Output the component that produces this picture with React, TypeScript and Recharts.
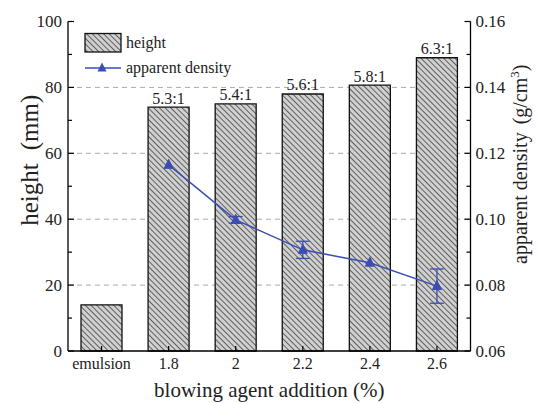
import React from 'react';
import { ComposedChart, Bar, Line, XAxis, YAxis, CartesianGrid, ErrorBar, LabelList } from 'recharts';

const categories = ['emulsion', '1.8', '2', '2.2', '2.4', '2.6'];
const heights = [14, 74, 75, 78, 80.7, 89];
const ratios = ['', '5.3:1', '5.4:1', '5.6:1', '5.8:1', '6.3:1'];
const densities: (number | null)[] = [null, 0.1165, 0.0998, 0.0907, 0.0868, 0.0797];
const densityErrors: (number | null)[] = [null, 0, 0.001, 0.0026, 0, 0.0052];
const heightTicks = [0, 10, 20, 30, 40, 50, 60, 70, 80, 90, 100];
const densityTicks = [0.06, 0.07, 0.08, 0.09, 0.1, 0.11, 0.12, 0.13, 0.14, 0.15, 0.16];
const gridValues = [20, 40, 60, 80];

const data = categories.map((c, i) => ({
  cat: c,
  height: heights[i],
  ratio: ratios[i],
  density: densities[i],
  err: densityErrors[i],
}));

const FONT = 'Liberation Serif';
const BLUE = '#3b4db3';
const TXT = '#222';

const LeftTick = (props: any) => {
  const { x, y, payload } = props;
  const v = payload.value;
  const major = v % 20 === 0;
  const ax = x + 6;
  return (
    <g>
      <line x1={ax} x2={ax + (major ? 6 : 4)} y1={y} y2={y} stroke="#000" strokeWidth={1.2} />
      {major && (
        <text x={x} y={y} dy="0.35em" textAnchor="end" fontSize={17} fontFamily={FONT} style={{ fontFamily: FONT }} fill={TXT}>
          {v}
        </text>
      )}
    </g>
  );
};

const RightTick = (props: any) => {
  const { x, y, payload } = props;
  const v = payload.value;
  const major = Math.round(v * 100) % 2 === 0;
  const ax = x - 5;
  return (
    <g>
      <line x1={ax} x2={ax - (major ? 6 : 4)} y1={y} y2={y} stroke="#000" strokeWidth={1.2} />
      {major && (
        <text x={x} y={y} dy="0.35em" textAnchor="start" fontSize={17} fontFamily={FONT} style={{ fontFamily: FONT }} fill={TXT}>
          {v.toFixed(2)}
        </text>
      )}
    </g>
  );
};

const BottomTick = (props: any) => {
  const { x, y, payload } = props;
  const ay = y - 6;
  return (
    <g>
      <line x1={x} x2={x} y1={ay} y2={ay - 5} stroke="#000" strokeWidth={1.2} />
      <text x={x} y={y} dy="0.78em" textAnchor="middle" fontSize={16} fontFamily={FONT} style={{ fontFamily: FONT }} fill={TXT}>
        {payload.value}
      </text>
    </g>
  );
};

const Triangle = (props: any) => {
  const { cx, cy } = props;
  if (cx == null || cy == null || props.value == null) return null;
  return (
    <polygon
      points={`${cx},${cy - 5.5} ${cx - 4.5},${cy + 3.5} ${cx + 4.5},${cy + 3.5}`}
      fill={BLUE}
      stroke={BLUE}
    />
  );
};

const LeftTitle = (props: any) => {
  const vb = props.viewBox || { x: 0, y: 21.5, width: 68, height: 329.5 };
  const x = vb.x + 38;
  const y = vb.y + vb.height / 2 - 26;
  return (
    <text x={x} y={y} transform={`rotate(-90, ${x}, ${y})`} textAnchor="middle" fontSize={25} fontFamily={FONT} style={{ fontFamily: FONT }} fill={TXT}>
      <tspan>height</tspan>
      <tspan dx={13}>(mm)</tspan>
    </text>
  );
};

const RightTitle = (props: any) => {
  const vb = props.viewBox || { x: 470.5, y: 21.5, width: 67.5, height: 329.5 };
  const x = vb.x + 56;
  const y = vb.y + vb.height / 2 - 22;
  return (
    <text x={x} y={y} transform={`rotate(-90, ${x}, ${y})`} textAnchor="middle" fontSize={20} fontFamily={FONT} style={{ fontFamily: FONT }} fill={TXT}>
      <tspan>apparent density</tspan>
      <tspan dx={8}>(g/cm</tspan>
      <tspan dy={-8} fontSize={13}>3</tspan>
      <tspan dy={8}>)</tspan>
    </text>
  );
};

const BottomTitle = (props: any) => {
  const vb = props.viewBox || { x: 68, y: 351, width: 402.5, height: 42 };
  return (
    <text x={vb.x + vb.width / 2} y={vb.y + 46} textAnchor="middle" fontSize={21} fontFamily={FONT} style={{ fontFamily: FONT }} fill={TXT}>
      blowing agent addition (%)
    </text>
  );
};

const BarLabel = (props: any) => {
  const { x, y, width, value } = props;
  if (!value) return null;
  return (
    <text x={x + width / 2} y={y - 3.5} textAnchor="middle" fontSize={16} fontFamily={FONT} style={{ fontFamily: FONT }} fill={TXT}>
      {value}
    </text>
  );
};

const gridGen = (p: any) => {
  try {
    const s = p?.yAxis?.scale;
    let f: any = null;
    if (typeof s === 'function') f = s;
    else if (s && typeof s.map === 'function') f = (v: number) => s.map(v);
    else if (s && typeof s.scale === 'function') f = s.scale;
    if (!f) return [];
    return gridValues.map((v) => f(v)).filter((n: any) => typeof n === 'number' && isFinite(n));
  } catch (e) {
    return [];
  }
};

export default function App() {
  return (
    <div style={{ position: 'absolute', left: 0, top: 0, width: 538, height: 403, background: '#fff', fontFamily: FONT }}>
      <svg width={0} height={0} style={{ position: 'absolute' }}>
        <defs>
          <pattern id="hatch" patternUnits="userSpaceOnUse" width={4} height={4} patternTransform="rotate(-45)">
            <rect x={0} y={0} width={4} height={4} fill="#d0d0d0" />
            <line x1={0.5} y1={0} x2={0.5} y2={4} stroke="#4a4a4a" strokeWidth={0.85} />
          </pattern>
        </defs>
      </svg>
      <ComposedChart
        width={538}
        height={403}
        data={data}
        margin={{ top: 21.5, right: 0, bottom: 10, left: 0 }}
        style={{ fontFamily: FONT }}
      >
        <CartesianGrid
          yAxisId="left"
          xAxisId="b"
          vertical={false}
          stroke="#aaa"
          strokeDasharray="5 4"
          horizontalCoordinatesGenerator={gridGen}
        />
        <XAxis
          xAxisId="b"
          dataKey="cat"
          height={42}
          interval={0}
          tickSize={0}
          tickMargin={6}
          tickLine={false}
          tick={<BottomTick />}
          axisLine={{ stroke: '#000', strokeWidth: 1.3 }}
          label={<BottomTitle />}
        />
        <XAxis
          xAxisId="top"
          dataKey="cat"
          orientation="top"
          height={0}
          tick={false}
          tickLine={false}
          axisLine={{ stroke: '#000', strokeWidth: 1.3 }}
        />
        <YAxis
          yAxisId="left"
          width={68}
          domain={[0, 100]}
          ticks={heightTicks}
          interval={0}
          tickSize={0}
          tickMargin={6}
          tickLine={false}
          tick={<LeftTick />}
          axisLine={{ stroke: '#000', strokeWidth: 1.3 }}
          label={<LeftTitle />}
        />
        <YAxis
          yAxisId="right"
          orientation="right"
          width={67.5}
          domain={[0.06, 0.16]}
          ticks={densityTicks}
          interval={0}
          tickSize={0}
          tickMargin={5}
          tickLine={false}
          tick={<RightTick />}
          axisLine={{ stroke: '#000', strokeWidth: 1.3 }}
          label={<RightTitle />}
          allowDataOverflow
        />
        <Bar
          xAxisId="b"
          yAxisId="left"
          dataKey="height"
          barSize={41}
          fill="url(#hatch)"
          stroke="#111"
          strokeWidth={1.3}
          isAnimationActive={false}
        >
          <LabelList dataKey="ratio" content={<BarLabel />} />
        </Bar>
        <Line
          xAxisId="b"
          yAxisId="right"
          dataKey="density"
          stroke={BLUE}
          strokeWidth={1.5}
          dot={<Triangle />}
          activeDot={false}
          isAnimationActive={false}
        >
          <ErrorBar dataKey="err" width={7} stroke={BLUE} strokeWidth={1.3} direction="y" />
        </Line>
      </ComposedChart>
      <div style={{ position: 'absolute', left: 84, top: 32, width: 200, height: 50 }}>
        <svg width={200} height={50}>
          <rect x={1} y={1.5} width={36} height={18.5} fill="url(#hatch)" stroke="#111" strokeWidth={1.3} />
          <text x={42} y={16} fontSize={16} fontFamily={FONT} style={{ fontFamily: FONT }} fill={TXT}>height</text>
          <line x1={1} x2={37} y1={36} y2={36} stroke={BLUE} strokeWidth={1.5} />
          <polygon points="18,30.5 13.5,39.5 22.5,39.5" fill={BLUE} />
          <text x={42} y={40.5} fontSize={16} fontFamily={FONT} style={{ fontFamily: FONT }} fill={TXT}>apparent density</text>
        </svg>
      </div>
    </div>
  );
}
